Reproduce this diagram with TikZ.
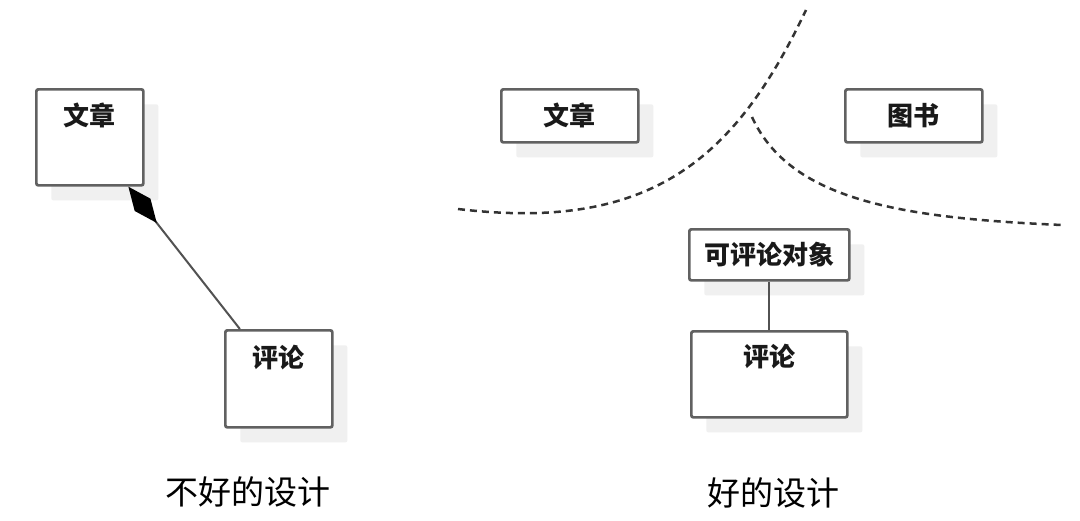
\documentclass[tikz,border=0pt]{standalone}
\usepackage{fontspec}
\usetikzlibrary{arrows.meta,shadows}
\newfontfamily\cjk{Noto Sans CJK SC}
\begin{document}
\begin{tikzpicture}[x=1pt,y=-1pt,
  box/.style={draw=black!62, line width=2.7pt, rounded corners=2pt, fill=white, inner sep=0pt,
    anchor=north west,
    drop shadow={shadow xshift=15pt, shadow yshift=-15pt, fill=black!6, opacity=1, draw=none}},
  lbl/.style={font=\cjk\bfseries\fontsize{26}{30}\selectfont, text=black!90},
  captxt/.style={font=\cjk\fontsize{33}{38}\selectfont, text=black},
  conn/.style={draw=black!68, line width=2pt},
  sepline/.style={draw=black!80, line width=2.5pt, dash pattern=on 7pt off 5pt}]
\useasboundingbox[fill=white] (0,0) rectangle (1080,520);

% left: bad design
\node[box, minimum width=107pt, minimum height=96pt,
  label={[lbl, anchor=center, yshift=-27pt]north:文章}] (wz1) at (35,88) {};
\node[box, minimum width=107pt, minimum height=97pt,
  label={[lbl, anchor=center, yshift=-29pt]north:评论}] (pl1) at (224,329) {};
\draw[conn, {Diamond[length=46pt, width=20pt, fill=black, color=black]}-] (wz1) -- (pl1);
\node[captxt] (cap1) at (248,492) {不好的设计};

% right: good design
\node[box, minimum width=137pt, minimum height=53pt] (wz2) at (500,88) {};
\node[lbl] (wzt) at (wz2.center) {文章};
\node[box, minimum width=137pt, minimum height=53pt] (ts) at (844,88) {};
\node[lbl] (tst) at (ts.center) {图书};
\node[box, minimum width=160pt, minimum height=51pt] (kp) at (688,228) {};
\node[lbl] (kpt) at (kp.center) {可评论对象};
\node[box, minimum width=156pt, minimum height=86pt,
  label={[lbl, anchor=center, yshift=-27pt]north:评论}] (pl2) at (690,330) {};
\draw[conn] (kp) -- (pl2);

\coordinate (a0) at (458,209);
\coordinate (a1) at (806,10);
\coordinate (b0) at (752,117);
\coordinate (b1) at (1062,225);
\draw[sepline] (a0) .. controls (650,232) and (735,160) .. (a1);
\draw[sepline] (b0) .. controls (790,200) and (900,218) .. (b1);

\node[captxt] (cap2) at (773,493) {好的设计};
\end{tikzpicture}
\end{document}
